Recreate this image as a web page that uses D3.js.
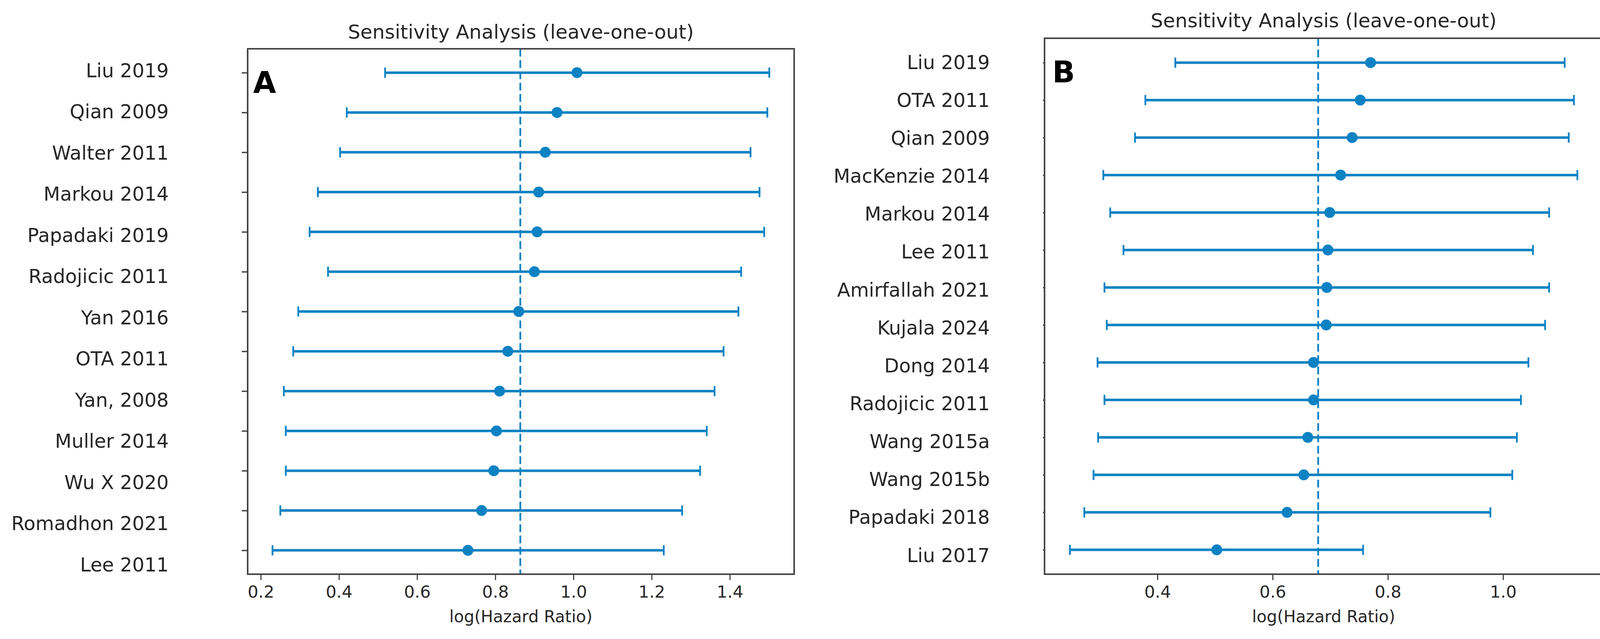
<!DOCTYPE html>
<html>
<head>
<meta charset="utf-8">
<script src="https://cdn.jsdelivr.net/npm/d3@7"></script>
<style>
  html, body { margin: 0; padding: 0; background: #fff; }
  svg text { font-family: "DejaVu Sans", sans-serif; fill: #262626; }
</style>
</head>
<body>
<svg id="fig" width="4139" height="1637"></svg>
<script>
// --- Panel A data (top to bottom) ---
const studiesA = ["Liu 2019", "Qian 2009", "Walter 2011", "Markou 2014", "Papadaki 2019", "Radojicic 2011",
  "Yan 2016", "OTA 2011", "Yan, 2008", "Muller 2014", "Wu X 2020", "Romadhon 2021", "Lee 2011"];
const estA = [1.009, 0.958, 0.928, 0.911, 0.907, 0.900, 0.860, 0.832, 0.811, 0.803, 0.796, 0.765, 0.730];
const lowA = [0.518, 0.420, 0.403, 0.346, 0.325, 0.372, 0.296, 0.283, 0.259, 0.264, 0.264, 0.250, 0.230];
const highA = [1.501, 1.496, 1.453, 1.476, 1.488, 1.429, 1.422, 1.384, 1.361, 1.341, 1.324, 1.278, 1.231];
const pooledA = 0.864;
const ticksA = [0.2, 0.4, 0.6, 0.8, 1.0, 1.2, 1.4];

// --- Panel B data (top to bottom) ---
const studiesB = ["Liu 2019", "OTA 2011", "Qian 2009", "MacKenzie 2014", "Markou 2014", "Lee 2011",
  "Amirfallah 2021", "Kujala 2024", "Dong 2014", "Radojicic 2011", "Wang 2015a", "Wang 2015b",
  "Papadaki 2018", "Liu 2017"];
const estB = [0.770, 0.752, 0.738, 0.718, 0.699, 0.696, 0.694, 0.693, 0.671, 0.671, 0.661, 0.654, 0.625, 0.503];
const lowB = [0.431, 0.379, 0.361, 0.306, 0.318, 0.341, 0.308, 0.312, 0.296, 0.308, 0.297, 0.289, 0.273, 0.248];
const highB = [1.107, 1.123, 1.114, 1.129, 1.080, 1.052, 1.080, 1.073, 1.044, 1.031, 1.024, 1.016, 0.978, 0.757];
const pooledB = 0.679;
const ticksB = [0.4, 0.6, 0.8, 1.0];

const TITLE = "Sensitivity Analysis (leave-one-out)";
const XLABEL = "log(Hazard Ratio)";
const BLUE = "#0c82c3";
const INK = "#444";

const svg = d3.select("#fig");

// panel geometry (box of the axes, and where the pasted study labels sit)
const panels = [
  { tag: "A", studies: studiesA, est: estA, low: lowA, high: highA, pooled: pooledA, ticks: ticksA,
    box: { x0: 634, x1: 2033, y0: 125, y1: 1471 }, labelX: 432, labelY: [180, 1446],
    tagPos: [648, 238], titleY: 99, yTickLen: 15 },
  { tag: "B", studies: studiesB, est: estB, low: lowB, high: highB, pooled: pooledB, ticks: ticksB,
    box: { x0: 2674, x1: 4103, y0: 98, y1: 1471 }, labelX: 2534, labelY: [159, 1422],
    tagPos: [2694, 211], titleY: 70, yTickLen: 4 }
];

panels.forEach(drawPanel);

function drawPanel(p) {
  const g = svg.append("g");
  const n = p.studies.length;

  // matplotlib-like 5% auto margins
  const lo = d3.min(p.low), hi = d3.max(p.high);
  const padX = (hi - lo) * 0.05;
  const x = d3.scaleLinear().domain([lo - padX, hi + padX]).range([p.box.x0, p.box.x1]);
  const padY = (n - 1) * 0.05;
  const y = d3.scaleLinear().domain([-padY, n - 1 + padY]).range([p.box.y0, p.box.y1]);

  // pooled estimate (dashed)
  g.append("line")
    .attr("x1", x(p.pooled)).attr("x2", x(p.pooled))
    .attr("y1", p.box.y0).attr("y2", p.box.y1)
    .attr("stroke", BLUE).attr("stroke-width", 4.5)
    .attr("stroke-dasharray", "20,9");

  const rows = g.append("g").selectAll("g")
    .data(p.studies.map((s, i) => ({ s, i, est: p.est[i], low: p.low[i], high: p.high[i] })))
    .enter().append("g");

  rows.append("line")
    .attr("x1", d => x(d.low)).attr("x2", d => x(d.high))
    .attr("y1", d => y(d.i)).attr("y2", d => y(d.i))
    .attr("stroke", BLUE).attr("stroke-width", 6.5);

  // caps
  ["low", "high"].forEach(k => {
    rows.append("line")
      .attr("x1", d => x(d[k])).attr("x2", d => x(d[k]))
      .attr("y1", d => y(d.i) - 13).attr("y2", d => y(d.i) + 13)
      .attr("stroke", BLUE).attr("stroke-width", 4.5);
  });

  rows.append("circle")
    .attr("cx", d => x(d.est)).attr("cy", d => y(d.i))
    .attr("r", 14).attr("fill", BLUE);

  // axes frame
  g.append("rect")
    .attr("x", p.box.x0).attr("y", p.box.y0)
    .attr("width", p.box.x1 - p.box.x0).attr("height", p.box.y1 - p.box.y0)
    .attr("fill", "none").attr("stroke", INK).attr("stroke-width", 4);

  // x axis
  const xAxis = g.append("g")
    .attr("transform", `translate(0,${p.box.y1})`)
    .call(d3.axisBottom(x).tickValues(p.ticks).tickFormat(d3.format(".1f"))
      .tickSize(15).tickPadding(14).tickSizeOuter(0));
  xAxis.select(".domain").remove();
  xAxis.selectAll(".tick line").attr("stroke", INK).attr("stroke-width", 3);
  xAxis.selectAll(".tick text").attr("font-size", 43).attr("font-family", "DejaVu Sans").attr("fill", "#262626");

  // y ticks (labels are drawn separately, they sit slightly off the ticks)
  const yAxis = g.append("g")
    .attr("transform", `translate(${p.box.x0},0)`)
    .call(d3.axisLeft(y).tickValues(d3.range(n)).tickFormat("").tickSize(p.yTickLen).tickSizeOuter(0));
  yAxis.select(".domain").remove();
  yAxis.selectAll(".tick line").attr("stroke", INK).attr("stroke-width", 3.5);

  const yl = d3.scaleLinear().domain([0, n - 1]).range(p.labelY);
  g.append("g").selectAll("text")
    .data(p.studies)
    .enter().append("text")
    .attr("x", p.labelX)
    .attr("y", (d, i) => yl(i))
    .attr("dy", "0.36em")
    .attr("text-anchor", "end")
    .attr("font-size", 49)
    .text(d => d);

  // title, x label, panel tag
  const cx = (p.box.x0 + p.box.x1) / 2;
  g.append("text").attr("x", cx).attr("y", p.titleY)
    .attr("text-anchor", "middle").attr("font-size", 50).text(TITLE);
  g.append("text").attr("x", cx).attr("y", 1594)
    .attr("text-anchor", "middle").attr("font-size", 42).text(XLABEL);
  g.append("text").attr("x", p.tagPos[0]).attr("y", p.tagPos[1])
    .attr("font-size", 76).attr("font-weight", "bold")
    .style("fill", "#000").text(p.tag);
}
</script>
</body>
</html>
